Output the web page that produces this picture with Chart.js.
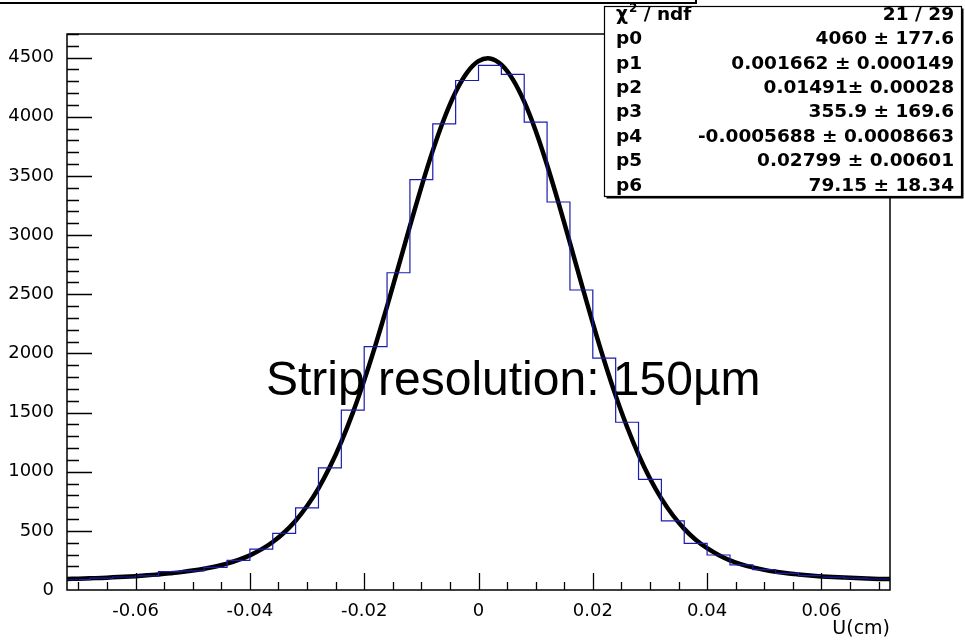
<!DOCTYPE html>
<html>
<head>
<meta charset="utf-8">
<script src="https://cdn.jsdelivr.net/npm/chart.js@4.4.1/dist/chart.umd.min.js"></script>
<style>
    html, body { margin: 0; padding: 0; background: #fff; }
    #resChart { display: block; }
</style>
</head>
<body>
<canvas id="resChart" width="965" height="640"></canvas>
<script>
// histogram of U residuals, 36 bins of 0.004 cm
const binWidth = 0.004;
const binCenters = [
    -0.070, -0.066, -0.062, -0.058, -0.054, -0.050, -0.046, -0.042, -0.038,
    -0.034, -0.030, -0.026, -0.022, -0.018, -0.014, -0.010, -0.006, -0.002,
    0.002, 0.006, 0.010, 0.014, 0.018, 0.022, 0.026, 0.030, 0.034,
    0.038, 0.042, 0.046, 0.050, 0.054, 0.058, 0.062, 0.066, 0.070
];
const binCounts = [
    88, 100, 110, 120, 155, 162, 192, 250, 345,
    478, 695, 1033, 1520, 2058, 2682, 3469, 3941, 4307,
    4434, 4358, 3955, 3280, 2536, 1960, 1418, 935, 585,
    394, 296, 213, 172, 140, 122, 108, 100, 93
];

// black fit line
const fitX = [
    -0.072, -0.070, -0.068, -0.066, -0.064, -0.062, -0.060, -0.058, -0.056, -0.054,
    -0.052, -0.050, -0.048, -0.046, -0.044, -0.042, -0.040, -0.038, -0.036, -0.034,
    -0.032, -0.030, -0.028, -0.026, -0.024, -0.022, -0.020, -0.018, -0.016, -0.014,
    -0.012, -0.010, -0.008, -0.006, -0.004, -0.002, 0, 0.002, 0.004, 0.006,
    0.008, 0.010, 0.012, 0.014, 0.016, 0.018, 0.020, 0.022, 0.024, 0.026,
    0.028, 0.030, 0.032, 0.034, 0.036, 0.038, 0.040, 0.042, 0.044, 0.046,
    0.048, 0.050, 0.052, 0.054, 0.056, 0.058, 0.060, 0.062, 0.064, 0.066,
    0.068, 0.070, 0.072
];
const fitY = [
    93, 96, 99, 102, 107, 112, 117, 124, 132, 141,
    151, 164, 180, 199, 223, 254, 293, 343, 406, 486,
    586, 710, 860, 1041, 1253, 1497, 1772, 2074, 2398, 2735,
    3075, 3406, 3714, 3986, 4210, 4374, 4470, 4493, 4441, 4317,
    4128, 3883, 3593, 3273, 2935, 2592, 2256, 1938, 1643, 1378,
    1144, 942, 772, 632, 517, 425, 353, 296, 251, 217,
    191, 170, 154, 141, 131, 122, 115, 110, 105, 101,
    97, 94, 92
];

const xTickValues = [-0.06, -0.04, -0.02, 0, 0.02, 0.04, 0.06];
const yTickValues = [0, 500, 1000, 1500, 2000, 2500, 3000, 3500, 4000, 4500];

const statsLabels = ['p0', 'p1', 'p2', 'p3', 'p4', 'p5', 'p6'];
const statsValues = [
    '4060 \u00b1 177.6',
    '0.001662 \u00b1 0.000149',
    '0.01491\u00b1 0.00028',
    '355.9 \u00b1 169.6',
    '-0.0005688 \u00b1 0.0008663',
    '0.02799 \u00b1 0.00601',
    '79.15 \u00b1 18.34'
];
const chiValue = '21 / 29';
const noteText = 'Strip resolution: 150\u00b5m';

const tickFont = { family: '"DejaVu Sans"', size: 18 };

// outline of each bin: left edge -> right edge
const histPoints = [];
binCenters.forEach((c, i) => {
    histPoints.push({ x: c - binWidth / 2, y: binCounts[i] });
    histPoints.push({ x: c + binWidth / 2, y: binCounts[i] });
});
const fitPoints = fitX.map((x, i) => ({ x: x, y: fitY[i] }));

const rootFrame = {
    id: 'rootFrame',
    afterDatasetsDraw(chart) {
        const { ctx, chartArea: a, scales: { x, y } } = chart;
        ctx.save();
        ctx.strokeStyle = '#000';
        ctx.lineWidth = 1.3;
        ctx.beginPath();
        // x ticks point up into the frame
        for (let i = -14; i <= 14; i++) {
            const px = Math.round(x.getPixelForValue(i * 0.005)) + 0.5;
            const len = i % 4 === 0 ? 17 : 8;
            ctx.moveTo(px, a.bottom);
            ctx.lineTo(px, a.bottom - len);
        }
        // y ticks point right into the frame
        for (let i = 1; i <= 47; i++) {
            const py = Math.round(y.getPixelForValue(i * 100)) + 0.5;
            const len = i % 5 === 0 ? 25 : 12;
            ctx.moveTo(a.left, py);
            ctx.lineTo(a.left + len, py);
        }
        ctx.stroke();

        ctx.lineWidth = 1.5;
        ctx.strokeRect(a.left, a.top, a.right - a.left, a.bottom - a.top);

        ctx.fillStyle = '#000';
        ctx.font = '48px "Liberation Sans"';
        ctx.textAlign = 'left';
        ctx.textBaseline = 'alphabetic';
        ctx.fillText(noteText, 266, 395);
        ctx.restore();
    },
    afterDraw(chart) {
        const { ctx } = chart;
        ctx.save();
        ctx.strokeStyle = '#000';

        // bottom of the title box peeking in at the top
        ctx.lineWidth = 2;
        ctx.beginPath();
        ctx.moveTo(0, 3);
        ctx.lineTo(696, 3);
        ctx.lineTo(696, 0);
        ctx.stroke();

        // stats box
        const bx = 604.5, by = 6.5, bw = 357, bh = 190;
        ctx.fillStyle = '#fff';
        ctx.fillRect(bx, by, bw, bh);
        ctx.lineWidth = 1.2;
        ctx.strokeRect(bx, by, bw, bh);
        ctx.lineWidth = 2;
        ctx.beginPath();
        ctx.moveTo(bx + 2, by + bh + 1);
        ctx.lineTo(bx + bw + 1, by + bh + 1);
        ctx.lineTo(bx + bw + 1, by + 2);
        ctx.stroke();

        ctx.fillStyle = '#000';
        ctx.textBaseline = 'middle';
        const left = 616, right = 954, row0 = 15, step = 24.4;
        const statFont = 'bold 18.5px "DejaVu Sans"';

        ctx.font = statFont;
        ctx.textAlign = 'left';
        ctx.fillText('\u03c7', left, row0);
        const chiW = ctx.measureText('\u03c7').width;
        ctx.font = 'bold 12px "DejaVu Sans"';
        ctx.fillText('2', left + chiW + 1, row0 - 6);
        const twoW = ctx.measureText('2').width;
        ctx.font = statFont;
        ctx.fillText(' / ndf', left + chiW + twoW + 1, row0);
        ctx.textAlign = 'right';
        ctx.fillText(chiValue, right, row0);

        statsLabels.forEach((lab, i) => {
            const ty = row0 + step * (i + 1);
            ctx.textAlign = 'left';
            ctx.fillText(lab, left, ty);
            ctx.textAlign = 'right';
            ctx.fillText(statsValues[i], right, ty);
        });
        ctx.restore();
    }
};

const ctx = document.getElementById('resChart').getContext('2d');
new Chart(ctx, {
    type: 'line',
    data: {
        datasets: [{
            label: 'U residual',
            data: histPoints,
            borderColor: '#1c1cae',
            borderWidth: 1.2,
            pointRadius: 0,
            tension: 0,
            fill: false
        }, {
            label: 'fit',
            data: fitPoints,
            borderColor: '#000',
            borderWidth: 4.5,
            pointRadius: 0,
            tension: 0.3,
            fill: false
        }]
    },
    options: {
        responsive: false,
        animation: false,
        devicePixelRatio: 1,
        layout: { padding: { top: 34, right: 75, left: 0, bottom: 0 } },
        plugins: {
            legend: { display: false },
            tooltip: { enabled: false }
        },
        scales: {
            x: {
                type: 'linear',
                min: -0.072,
                max: 0.072,
                afterBuildTicks: s => { s.ticks = xTickValues.map(v => ({ value: v })); },
                afterFit: s => { s.height = 50; },
                grid: { display: false },
                border: { display: false },
                ticks: {
                    color: '#000',
                    font: tickFont,
                    padding: 3,
                    autoSkip: false,
                    maxRotation: 0,
                    callback: v => v === 0 ? '0' : v.toFixed(2)
                },
                title: {
                    display: true,
                    text: 'U(cm)',
                    align: 'end',
                    color: '#000',
                    font: { family: '"DejaVu Sans"', size: 19 },
                    padding: { top: 0, bottom: 0 }
                }
            },
            y: {
                min: 0,
                max: 4700,
                afterBuildTicks: s => { s.ticks = yTickValues.map(v => ({ value: v })); },
                afterFit: s => { s.width = 67; },
                grid: { display: false },
                border: { display: false },
                ticks: {
                    color: '#000',
                    font: tickFont,
                    padding: 5,
                    autoSkip: false,
                    callback: v => String(v)
                }
            }
        }
    },
    plugins: [rootFrame]
});
</script>
</body>
</html>
